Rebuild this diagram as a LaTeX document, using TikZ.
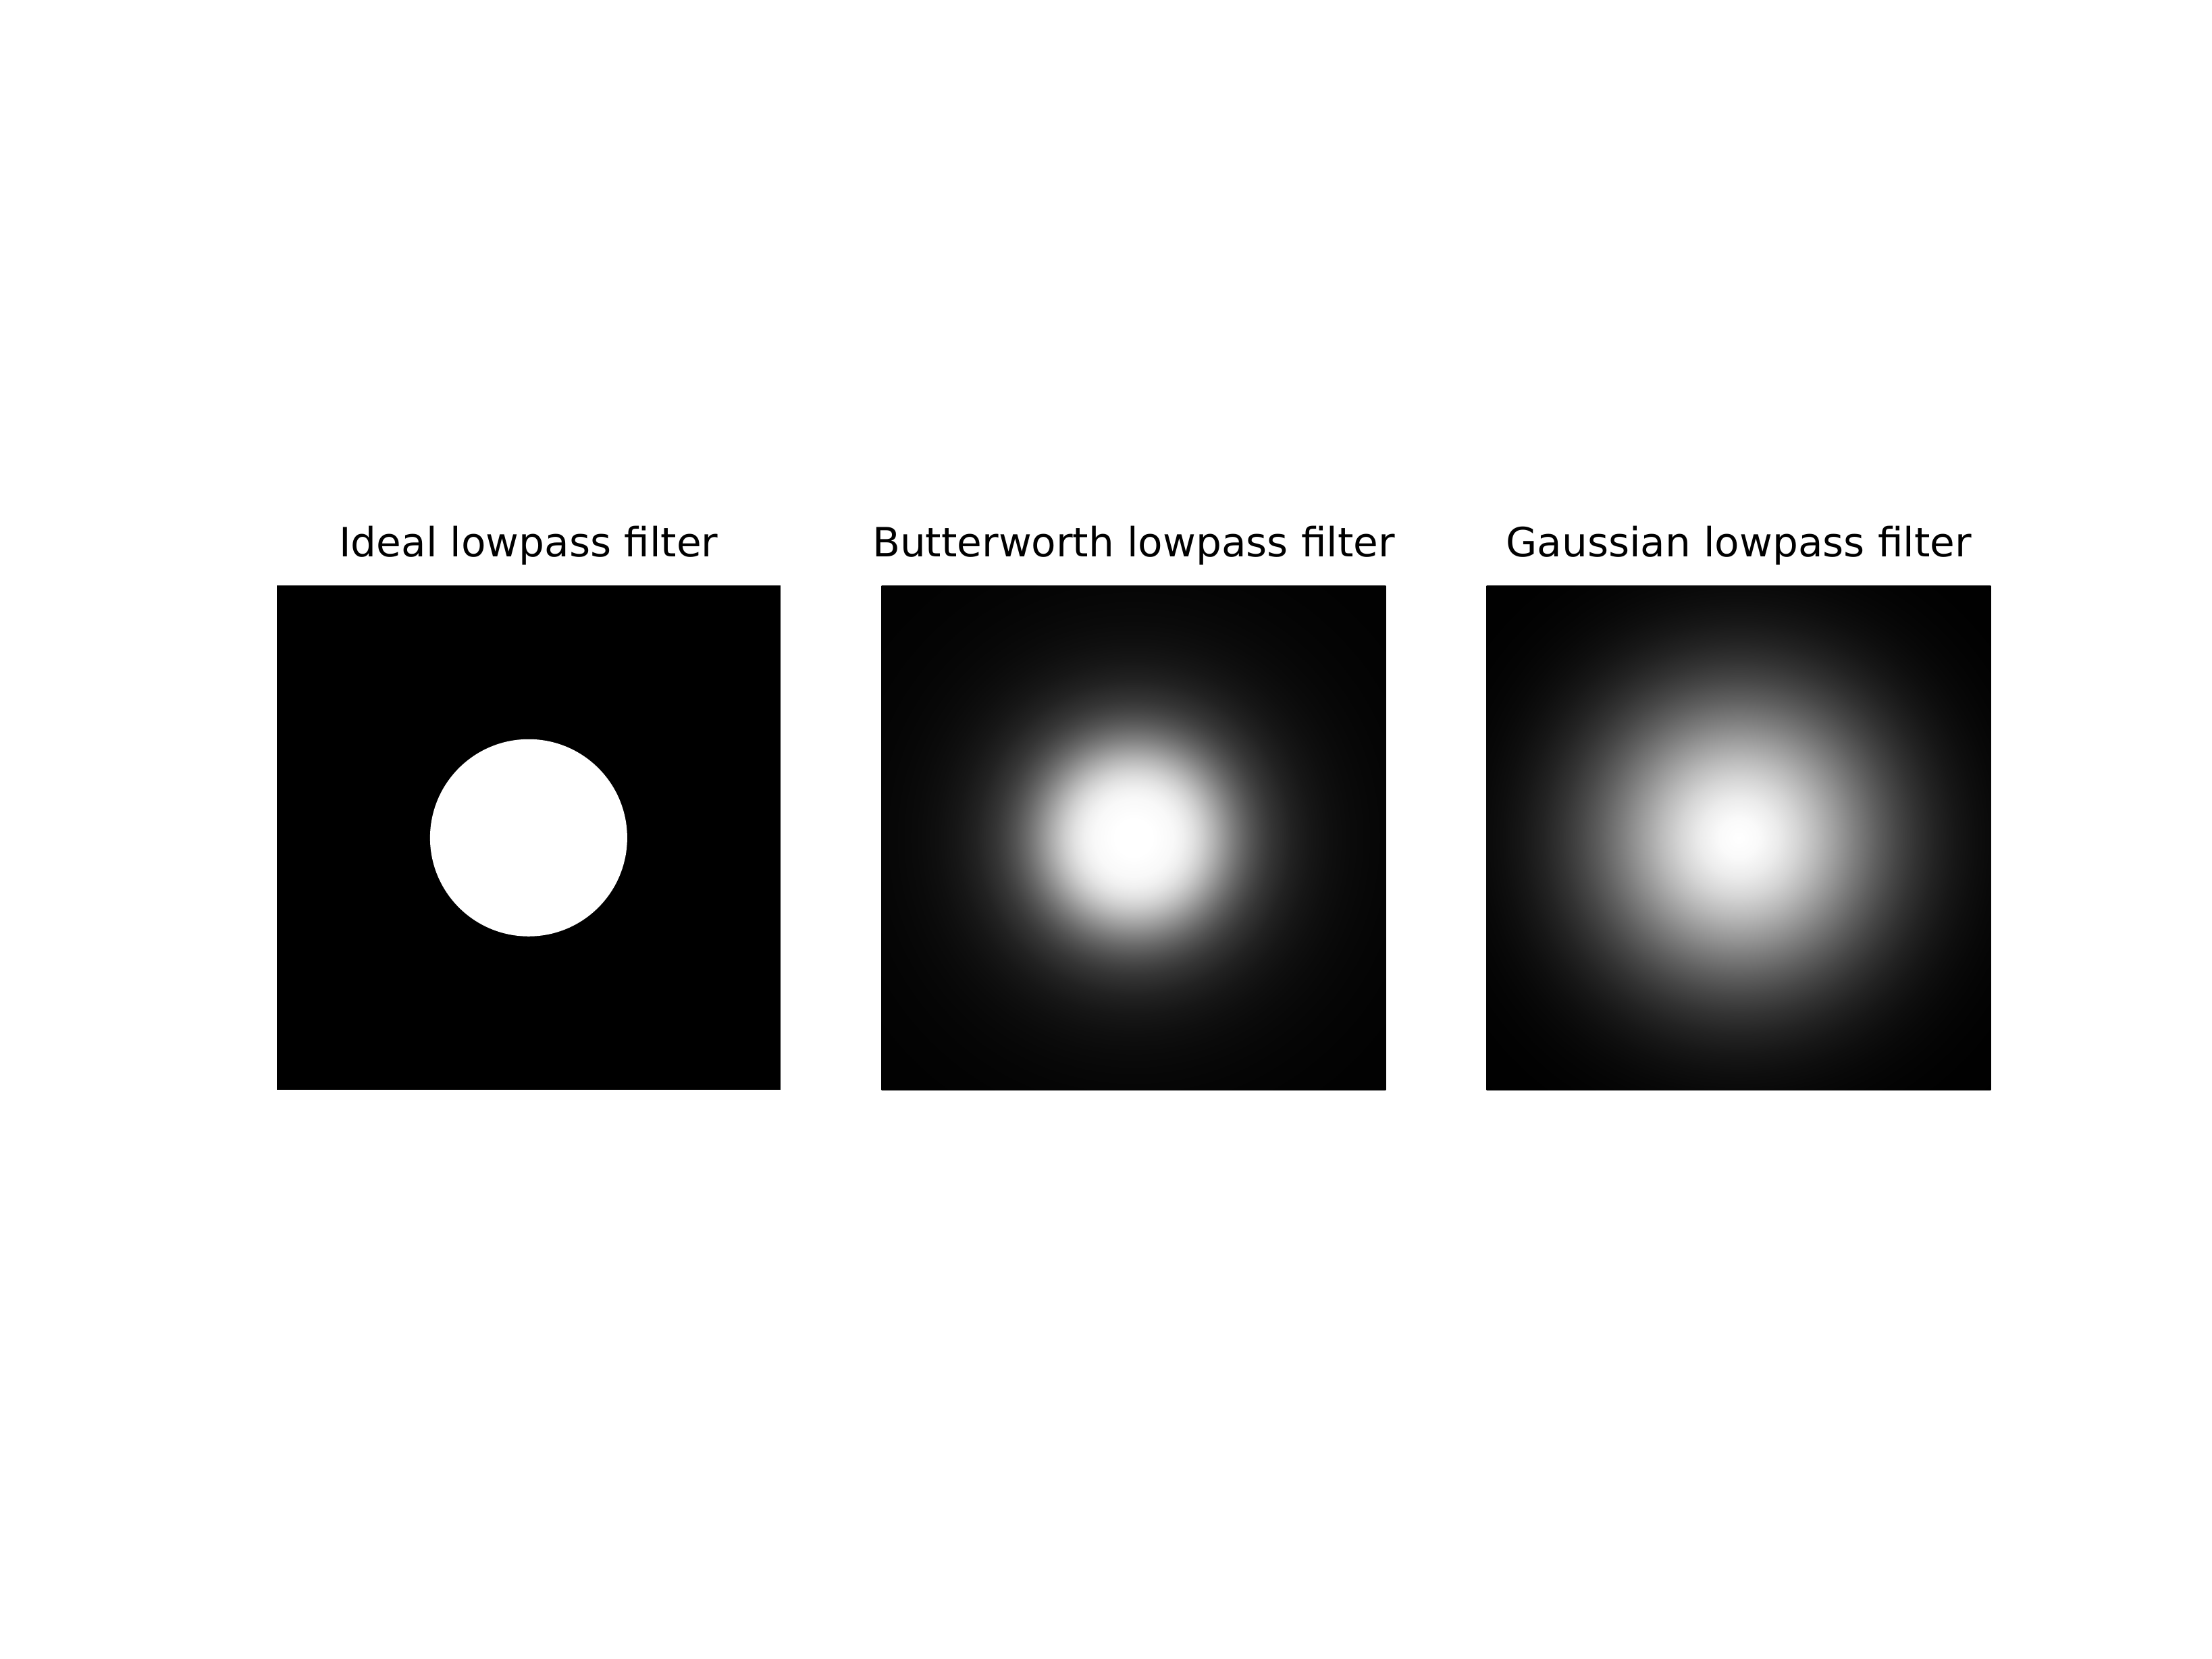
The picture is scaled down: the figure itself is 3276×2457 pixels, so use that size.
\documentclass[tikz,border=0pt]{standalone}
\usepackage{fontspec}
\setmainfont{DejaVu Sans}
\pgfdeclareradialshading{butterlp}{\pgfpoint{0bp}{0bp}}{%
color(0bp)=(white);
color(1.953bp)=(white!99.84!black);
color(3.906bp)=(white!97.5!black);
color(4.883bp)=(white!94.1!black);
color(5.859bp)=(white!88.53!black);
color(6.836bp)=(white!80.64!black);
color(7.813bp)=(white!70.94!black);
color(8.789bp)=(white!60.38!black);
color(9.766bp)=(white!50!black);
color(10.742bp)=(white!40.58!black);
color(11.719bp)=(white!32.54!black);
color(12.695bp)=(white!25.93!black);
color(13.672bp)=(white!20.65!black);
color(15.625bp)=(white!13.24!black);
color(17.578bp)=(white!8.7!black);
color(19.531bp)=(white!5.88!black);
color(21.484bp)=(white!4.09!black);
color(23.438bp)=(white!2.93!black);
color(25.391bp)=(white!2.14!black);
color(27.344bp)=(white!1.6!black);
color(29.297bp)=(white!1.22!black);
color(31.25bp)=(white!0.945!black);
color(33.203bp)=(white!0.743!black);
color(36.133bp)=(white!0.53!black);
color(50bp)=(white!0.145!black)}
\pgfdeclareradialshading{gausslp}{\pgfpoint{0bp}{0bp}}{%
color(0bp)=(white);
color(1.953bp)=(white!98.02!black);
color(3.906bp)=(white!92.31!black);
color(5.859bp)=(white!83.53!black);
color(7.813bp)=(white!72.61!black);
color(9.766bp)=(white!60.65!black);
color(11.719bp)=(white!48.68!black);
color(13.672bp)=(white!37.53!black);
color(15.625bp)=(white!27.8!black);
color(17.578bp)=(white!19.79!black);
color(19.531bp)=(white!13.53!black);
color(21.484bp)=(white!8.89!black);
color(23.438bp)=(white!5.61!black);
color(25.391bp)=(white!3.4!black);
color(27.344bp)=(white!1.98!black);
color(29.297bp)=(white!1.11!black);
color(31.25bp)=(white!0.6!black);
color(33.203bp)=(white!0.31!black);
color(36.133bp)=(white!0.11!black);
color(50bp)=(black)}
\tikzset{
  ttl/.style={anchor=base, inner sep=0pt, font=\fontsize{8.4}{10}\selectfont},
}
\begin{document}
\begin{tikzpicture}[x=0.140625pt, y=-0.140625pt]
\useasboundingbox (0,0) rectangle (3276,2457);
% panel 1: ideal
\fill[black] (409.5,867.4) rectangle (1156.2,1614.2);
\fill[white] (782.9,1240.8) circle[radius=146];
\node[ttl] (t1) at (782.9,824.7) {Ideal lowpass filter};
% panel 2: butterworth
\shade[shading=butterlp] (1305.6,867.4) rectangle (2052.3,1614.2);
\node[ttl] (t2) at (1679.0,824.7) {Butterworth lowpass filter};
% panel 3: gaussian
\shade[shading=gausslp] (2201.7,867.4) rectangle (2948.4,1614.2);
\node[ttl] (t3) at (2575.1,824.7) {Gaussian lowpass filter};
\end{tikzpicture}
\end{document}
